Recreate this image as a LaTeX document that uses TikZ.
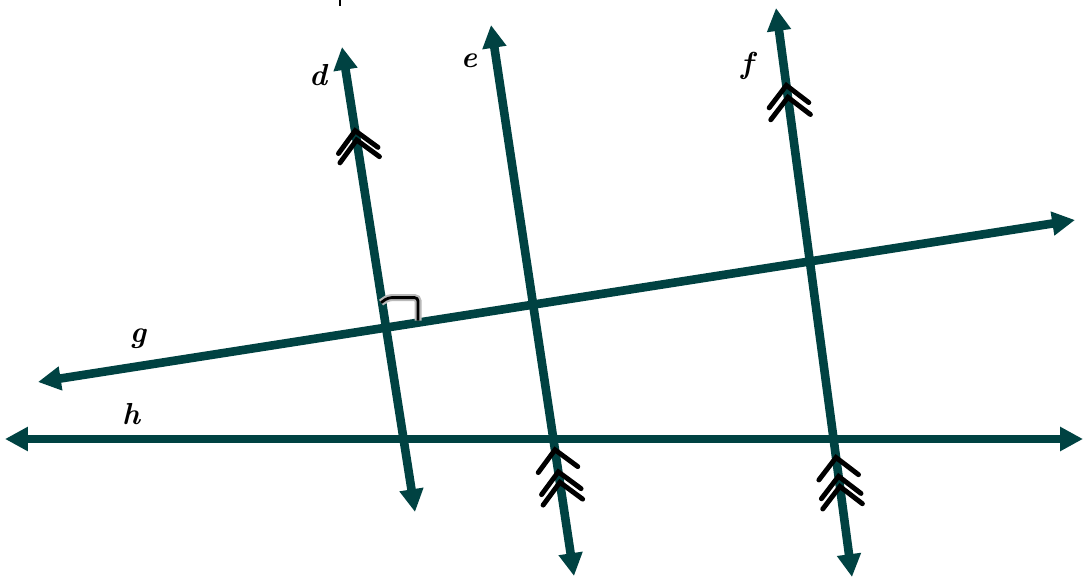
\documentclass[tikz,border=0pt]{standalone}
\usetikzlibrary{arrows.meta, calc}
\definecolor{linegreen}{HTML}{004242}

\begin{document}
\begin{tikzpicture}[
		x=0.02cm, y=0.02cm,
		>={Triangle[length=13pt, width=13pt]},
		parline/.style={<->, linegreen, line width=4.9pt},
		chev/.pic={\draw[line width=2.8pt, line cap=round] (-20,20) -- (0,0) -- (-20,-20);},
		lbl/.style={font=\LARGE\bfseries\itshape, inner sep=0pt}
		]
		\useasboundingbox (0,0) rectangle (1084,578);
		
		% ==========================================
		% 1. END POINTS OF THE LINES
		% ==========================================
		\coordinate (dT) at (342,531);
		\coordinate (dB) at (415,66);
		\coordinate (eT) at (491,553);
		\coordinate (eB) at (574,2);
		\coordinate (fT) at (776,570);
		\coordinate (fB) at (852,1);
		\coordinate (gL) at (38,196);
		\coordinate (gR) at (1075,358);
		\coordinate (hL) at (5,139);
		\coordinate (hR) at (1083,139);
		\coordinate (dg) at (intersection of dT--dB and gL--gR);
		
		% ==========================================
		% 2. THE LINES
		% ==========================================
		\draw[parline] (gL) -- (gR);
		\draw[parline] (hL) -- (hR);
		\draw[parline] (dB) -- (dT);
		\draw[parline] (eB) -- (eT);
		\draw[parline] (fB) -- (fT);
		
		% right angle at d and g
		\draw[gray!55, line width=4pt, rounded corners=2pt] ($(dg)+(-5,25)$) -- ($(dg)+(2,30)$) -- ($(dg)+(32,30)$) -- ($(dg)+(32,7)$);
		\draw[black, line width=1.6pt, rounded corners=2pt] ($(dg)+(-5,25)$) -- ($(dg)+(2,30)$) -- ($(dg)+(32,30)$) -- ($(dg)+(32,7)$);
		
		% ==========================================
		% 3. PARALLEL MARKS
		% ==========================================
		\pic[rotate=98.9] at ($(dT)!0.180!(dB)$) {chev};
		\pic[rotate=98.9] at ($(dT)!0.200!(dB)$) {chev};
		
		\pic[rotate=97.6] at ($(fT)!0.136!(fB)$) {chev};
		\pic[rotate=97.6] at ($(fT)!0.157!(fB)$) {chev};
		
		\pic[rotate=98.6] at ($(eT)!0.771!(eB)$) {chev};
		\pic[rotate=98.6] at ($(eT)!0.811!(eB)$) {chev};
		\pic[rotate=98.6] at ($(eT)!0.830!(eB)$) {chev};
		
		\pic[rotate=97.6] at ($(fT)!0.790!(fB)$) {chev};
		\pic[rotate=97.6] at ($(fT)!0.823!(fB)$) {chev};
		\pic[rotate=97.6] at ($(fT)!0.841!(fB)$) {chev};
		
		% ==========================================
		% 4. LABELS
		% ==========================================
		\node[lbl] (dlab) at (318,503) {d};
		\node[lbl] (elab) at (469,517) {e};
		\node[lbl] (flab) at (747,512) {f};
		\node[lbl] (glab) at (138,239) {g};
		\node[lbl] (hlab) at (131,164) {h};
		
		\draw[line width=1.2pt] (340,578) -- (340,572);
		
	\end{tikzpicture}
\end{document}
